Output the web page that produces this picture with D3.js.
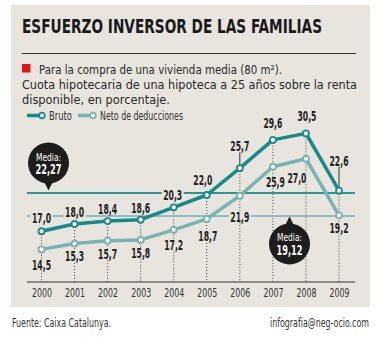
<!DOCTYPE html>
<html lang="es">
<head>
<meta charset="UTF-8">
<title>Esfuerzo inversor de las familias</title>
<script src="https://d3js.org/d3.v7.min.js"></script>
<style>
    body { margin: 0; background: #fff; }
    svg { display: block; font-family: "DejaVu Sans Condensed", "Liberation Sans Narrow", sans-serif; }
</style>
</head>
<body>
<div id="chart"></div>
<script>
    // Data
    const years = ["2000", "2001", "2002", "2003", "2004", "2005", "2006", "2007", "2008", "2009"];
    const bruto = [17.0, 18.0, 18.4, 18.6, 20.3, 22.0, 25.7, 29.6, 30.5, 22.6];
    const neto = [14.5, 15.3, 15.7, 15.8, 17.2, 18.7, 21.9, 25.9, 27.0, 19.2];
    const mediaBruto = 22.27;
    const mediaNeto = 19.12;

    // label offsets from the point (layout only)
    const brutoLabelOff = [[0, -13], [0, -12], [0, -12], [0, -12], [-1, -12], [-4, -15], [0, -22], [0, -16.5], [1, -17.5], [0, -30]];
    const netoLabelOff = [[0, 16], [0, 13], [0, 13], [0, 13.5], [0, 15], [1, 17], [0, 21], [2.5, 15], [-9, 19], [0, 13]];

    const width = 381, height = 340;
    const panelColor = "#e7e5de";
    const cBruto = "#168a8a";
    const cNeto = "#78b2b2";
    const fmt = v => d3.format(".1f")(v).replace(".", ",");

    // squeeze a text to a given width (the original uses a condensed face)
    const fit = (sel, w) => sel.attr("textLength", w).attr("lengthAdjust", "spacingAndGlyphs");

    const svg = d3.select("#chart").append("svg")
        .attr("width", width).attr("height", height);

    svg.append("rect").attr("x", 11).attr("y", 5).attr("width", 359).attr("height", 302)
        .attr("fill", panelColor);

    // Title and subtitle
    svg.append("text").attr("x", 22).attr("y", 33)
        .attr("font-size", 19).attr("font-weight", 900).attr("fill", "#1a1a1a")
        .call(fit, 300)
        .text("ESFUERZO INVERSOR DE LAS FAMILIAS");

    svg.append("line").attr("x1", 22).attr("x2", 356).attr("y1", 53.5).attr("y2", 53.5)
        .attr("stroke", "#333").attr("stroke-width", 1);

    svg.append("rect").attr("x", 22).attr("y", 64).attr("width", 8.5).attr("height", 8.5).attr("fill", "#e3131b");

    const sub = [
        { x: 39, y: 74, w: 243, t: "Para la compra de una vivienda media (80 m²)." },
        { x: 22, y: 89, w: 335, t: "Cuota hipotecaria de una hipoteca a 25 años sobre la renta" },
        { x: 22, y: 104, w: 148, t: "disponible, en porcentaje." }
    ];
    svg.selectAll("text.sub").data(sub).enter().append("text")
        .attr("class", "sub").attr("x", d => d.x).attr("y", d => d.y)
        .attr("font-size", 12.5).attr("fill", "#2a2a2a")
        .attr("textLength", d => d.w).attr("lengthAdjust", "spacingAndGlyphs")
        .text(d => d.t);

    // Legend
    const legend = [
        { x: 27, w: 15, tx: 49, tw: 23, c: cBruto, t: "Bruto" },
        { x: 78, w: 15, tx: 100, tw: 83, c: cNeto, t: "Neto de deducciones" }
    ];
    const lg = svg.selectAll("g.leg").data(legend).enter().append("g").attr("class", "leg");
    lg.append("line").attr("x1", d => d.x).attr("x2", d => d.x + d.w).attr("y1", 115.5).attr("y2", 115.5)
        .attr("stroke", d => d.c).attr("stroke-width", 3.5);
    lg.append("circle").attr("cx", d => d.x + d.w).attr("cy", 115.5).attr("r", 2.8)
        .attr("fill", "#fff").attr("stroke", d => d.c).attr("stroke-width", 1.8);
    lg.append("text").attr("x", d => d.tx).attr("y", 119.5).attr("font-size", 11.5).attr("fill", "#333")
        .attr("textLength", d => d.tw).attr("lengthAdjust", "spacingAndGlyphs")
        .text(d => d.t);

    // Scales
    const x = d3.scalePoint().domain(years).range([41.5, 339]);
    const y = d3.scaleLinear().domain([10, 35]).range([282, 100.75]);

    // Drop lines
    svg.selectAll("line.drop").data(years).enter().append("line")
        .attr("class", "drop")
        .attr("x1", d => x(d)).attr("x2", d => x(d))
        .attr("y1", (d, i) => y(bruto[i])).attr("y2", y(10))
        .attr("stroke", "#444").attr("stroke-width", 1).attr("stroke-dasharray", "1,2");

    // Mean lines
    svg.append("line").attr("x1", 27).attr("x2", 355).attr("y1", y(mediaBruto)).attr("y2", y(mediaBruto))
        .attr("stroke", "#2a9595").attr("stroke-width", 2);
    svg.append("line").attr("x1", 27).attr("x2", 355).attr("y1", y(mediaNeto)).attr("y2", y(mediaNeto))
        .attr("stroke", "#8cbfbf").attr("stroke-width", 2);

    // X axis
    const xAxis = svg.append("g").attr("transform", `translate(0,${y(10)})`);
    xAxis.append("line").attr("x1", 27).attr("x2", 355).attr("stroke", "#333").attr("stroke-width", 1);
    xAxis.call(d3.axisBottom(x).tickSize(0).tickPadding(7))
        .call(g => g.select(".domain").remove())
        .selectAll("text").attr("font-size", 11.5).attr("fill", "#333")
        .attr("font-family", "\"DejaVu Sans Condensed\", sans-serif")
        .call(fit, 20);

    // Leader lines for a few labels
    const leaders = [6, 9];
    svg.selectAll("line.lead").data(leaders).enter().append("line")
        .attr("x1", i => x(years[i])).attr("x2", i => x(years[i]))
        .attr("y1", i => y(bruto[i]) + brutoLabelOff[i][1] + 6).attr("y2", i => y(bruto[i]) - 3)
        .attr("stroke", "#333").attr("stroke-width", 1);

    // Series lines
    const line = d3.line().x((d, i) => x(years[i])).y(d => y(d));
    svg.append("path").datum(neto).attr("d", line).attr("fill", "none")
        .attr("stroke", cNeto).attr("stroke-width", 3.5).attr("stroke-linejoin", "round");
    svg.append("path").datum(bruto).attr("d", line).attr("fill", "none")
        .attr("stroke", cBruto).attr("stroke-width", 3.5).attr("stroke-linejoin", "round");

    [[neto, cNeto], [bruto, cBruto]].forEach(([vals, c]) => {
        svg.append("g").selectAll("circle").data(vals).enter().append("circle")
            .attr("cx", (d, i) => x(years[i])).attr("cy", d => y(d)).attr("r", 3)
            .attr("fill", "#fff").attr("stroke", c).attr("stroke-width", 1.8);
    });

    // Value labels: background boxes first, then the texts on top
    const labelData = [];
    bruto.forEach((v, i) => labelData.push({ v, px: x(years[i]) + brutoLabelOff[i][0], py: y(v) + brutoLabelOff[i][1] }));
    neto.forEach((v, i) => labelData.push({ v, px: x(years[i]) + netoLabelOff[i][0], py: y(v) + netoLabelOff[i][1] }));

    svg.append("g").selectAll("rect").data(labelData).enter().append("rect")
        .attr("x", d => d.px - 11).attr("y", d => d.py - 5).attr("width", 22).attr("height", 10)
        .attr("fill", panelColor);
    svg.append("g").selectAll("text").data(labelData).enter().append("text")
        .attr("x", d => d.px).attr("y", d => d.py)
        .attr("text-anchor", "middle").attr("dy", "0.36em")
        .attr("font-size", 13.5).attr("font-weight", "bold").attr("fill", "#222")
        .call(fit, 19)
        .text(d => fmt(d.v));

    // Media bubbles
    function bubble(cx, cy, tipUp, value) {
        const r = 20.5;
        const g = svg.append("g");
        const tipY = tipUp ? cy - r - 7 : cy + r + 7;
        const baseY = tipUp ? cy - r + 3 : cy + r - 3;
        g.append("path").attr("d", `M${cx - 5},${baseY} L${cx},${tipY} L${cx + 5},${baseY} Z`).attr("fill", "#1d1d1b");
        g.append("circle").attr("cx", cx).attr("cy", cy).attr("r", r).attr("fill", "#1d1d1b");
        g.append("text").attr("x", cx).attr("y", cy - 2.5).attr("text-anchor", "middle")
            .attr("font-size", 10.5).attr("fill", "#fff")
            .call(fit, 25)
            .text("Media:");
        g.append("text").attr("x", cx).attr("y", cy + 11).attr("text-anchor", "middle")
            .attr("font-size", 13.5).attr("font-weight", "bold").attr("fill", "#fff")
            .call(fit, 26)
            .text(d3.format(".2f")(value).replace(".", ","));
    }
    bubble(48.5, y(mediaBruto) - 30, false, mediaBruto);
    bubble(289.5, y(mediaNeto) + 28, true, mediaNeto);

    // Footer
    svg.append("text").attr("x", 12).attr("y", 327).attr("font-size", 12).attr("fill", "#333")
        .call(fit, 99)
        .text("Fuente: Caixa Catalunya.");
    svg.append("text").attr("x", 369).attr("y", 327).attr("text-anchor", "end").attr("font-size", 12).attr("fill", "#333")
        .call(fit, 99)
        .text("infografia@neg-ocio.com");
</script>
</body>
</html>
